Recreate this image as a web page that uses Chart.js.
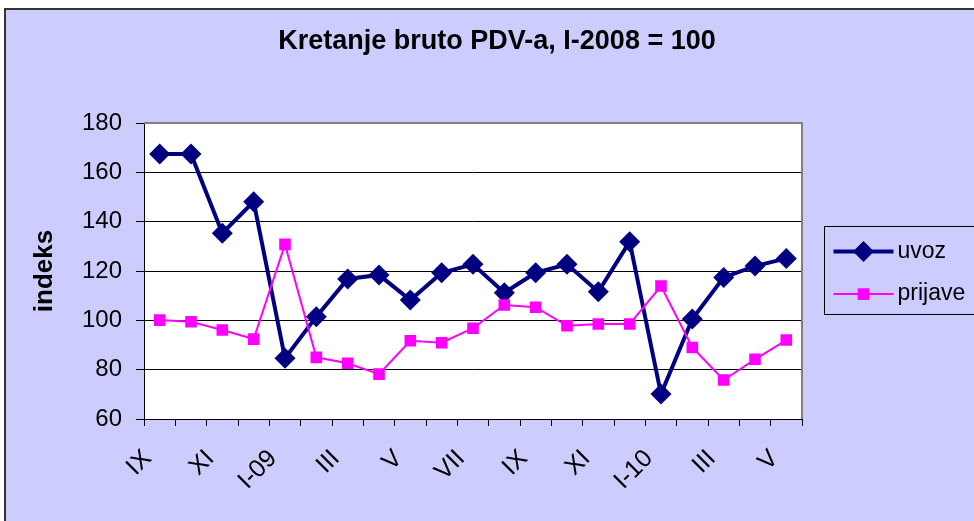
<!DOCTYPE html>
<html>
<head>
<meta charset="utf-8">
<script src="https://cdn.jsdelivr.net/npm/chart.js@4.4.1/dist/chart.umd.min.js"></script>
<style>
  html, body { margin: 0; padding: 0; background: #fff; overflow: hidden; }
  #frame { position: absolute; left: 4px; top: 8px; width: 1040px; height: 540px; background: #ccccff; border: 2px solid #333; }
  #wrap { position: absolute; left: 0; top: 0; width: 1000px; height: 511px; }
</style>
</head>
<body>
<div id="frame"><div id="wrap"><canvas id="pdvChart"></canvas></div></div>
<script>
// months from IX-2008 to V-2010, every second one is labelled on the axis
var months = ['IX', 'X', 'XI', 'XII', 'I-09', 'II', 'III', 'IV', 'V', 'VI', 'VII', 'VIII',
              'IX', 'X', 'XI', 'XII', 'I-10', 'II', 'III', 'IV', 'V'];

var uvoz = [167.4, 167.4, 135.3, 148.1, 84.6, 101.5, 116.8, 118.4, 108.2, 119.3, 122.7,
            111.2, 119.3, 122.7, 111.6, 131.9, 70.1, 100.5, 117.4, 122.0, 125.1];

var prijave = [100.1, 99.4, 96.1, 92.4, 130.8, 85.0, 82.6, 78.2, 91.7, 90.9, 96.8,
               106.2, 105.3, 97.8, 98.5, 98.5, 113.9, 89.0, 75.8, 84.2, 92.0];

var titleText = 'Kretanje bruto PDV-a, I-2008 = 100';
var yTitle = 'indeks';

var FONT = "'Liberation Sans', Arial, sans-serif";
Chart.defaults.font.family = FONT;
Chart.defaults.color = '#000';

// white plot area, grey top/right frame (Excel look)
var plotFrame = {
    id: 'plotFrame',
    beforeDraw(chart) {
        const a = chart.chartArea, ctx = chart.ctx;
        ctx.save();
        ctx.fillStyle = '#fff';
        ctx.fillRect(a.left, a.top, a.right - a.left, a.bottom - a.top);
        ctx.restore();
    },
    afterDatasetsDraw(chart) {
        const a = chart.chartArea, ctx = chart.ctx;
        ctx.save();
        ctx.strokeStyle = '#808080';
        ctx.lineWidth = 2;
        ctx.beginPath();
        ctx.moveTo(a.left, a.top);
        ctx.lineTo(a.right, a.top);
        ctx.lineTo(a.right, a.bottom);
        ctx.stroke();
        ctx.restore();
    }
};

// title centred over the visible frame, not over the plot
var frameTitle = {
    id: 'frameTitle',
    afterDraw(chart) {
        const ctx = chart.ctx;
        ctx.save();
        ctx.font = 'bold 27px ' + FONT;
        ctx.fillStyle = '#000';
        ctx.textAlign = 'center';
        ctx.textBaseline = 'middle';
        ctx.fillText(titleText, 491, 32);
        ctx.restore();
    }
};

function drawMarker(ctx, style, r, x, y) {
    ctx.beginPath();
    if (style === 'rectRot') {
        ctx.moveTo(x, y - r);
        ctx.lineTo(x + r, y);
        ctx.lineTo(x, y + r);
        ctx.lineTo(x - r, y);
    } else {
        const s = r * Math.SQRT1_2;
        ctx.rect(x - s, y - s, 2 * s, 2 * s);
    }
    ctx.closePath();
    ctx.fill();
}

// legend with line + marker like Excel
var excelLegend = {
    id: 'excelLegend',
    afterDraw(chart) {
        const ctx = chart.ctx, a = chart.chartArea;
        const x0 = a.right + 22.5, y0 = a.top + 103.5;
        ctx.save();
        ctx.strokeStyle = '#000';
        ctx.lineWidth = 1;
        ctx.strokeRect(x0, y0, 165, 88);
        chart.data.datasets.forEach((ds, i) => {
            const y = y0 + 25 + i * 42.6;
            ctx.strokeStyle = ds.borderColor;
            ctx.lineWidth = ds.borderWidth;
            ctx.beginPath();
            ctx.moveTo(x0 + 9, y);
            ctx.lineTo(x0 + 69, y);
            ctx.stroke();
            ctx.fillStyle = ds.pointBackgroundColor;
            drawMarker(ctx, ds.pointStyle, ds.pointRadius, x0 + 39, y);
            ctx.fillStyle = '#000';
            ctx.font = '23px ' + FONT;
            ctx.textAlign = 'left';
            ctx.textBaseline = 'middle';
            ctx.fillText(ds.label, x0 + 73, y);
        });
        ctx.restore();
    }
};

var ctx = document.getElementById('pdvChart');
new Chart(ctx, {
    type: 'line',
    data: {
        labels: months,
        datasets: [
            {
                label: 'uvoz',
                data: uvoz,
                borderColor: '#000080',
                backgroundColor: '#000080',
                pointBackgroundColor: '#000080',
                borderWidth: 4,
                pointStyle: 'rectRot',
                pointRadius: 10.5,
                pointBorderWidth: 0,
                tension: 0,
                order: 1
            },
            {
                label: 'prijave',
                data: prijave,
                borderColor: '#ff00ff',
                backgroundColor: '#ff00ff',
                pointBackgroundColor: '#ff00ff',
                borderWidth: 2,
                pointStyle: 'rect',
                pointRadius: 8.2,
                pointBorderWidth: 0,
                tension: 0,
                order: 0
            }
        ]
    },
    options: {
        responsive: true,
        maintainAspectRatio: false,
        animation: false,
        layout: {
            padding: { left: 23, right: 204, top: 113, bottom: 0 }
        },
        scales: {
            x: {
                type: 'category',
                offset: true,
                afterFit: (s) => { s.height = 102; },
                grid: {
                    display: true,
                    offset: true,
                    drawOnChartArea: false,
                    tickLength: 7,
                    color: '#000'
                },
                border: { display: true, color: '#000', width: 1 },
                ticks: {
                    autoSkip: false,
                    minRotation: 45,
                    maxRotation: 45,
                    padding: 18,
                    labelOffset: -12,
                    font: { size: 25 },
                    color: '#000',
                    callback: function (value, index) {
                        return index % 2 === 0 ? this.getLabelForValue(value) : '';
                    }
                }
            },
            y: {
                min: 60,
                max: 180,
                afterFit: (s) => { s.width = 115; },
                grid: { color: '#000', lineWidth: 1, tickLength: 8 },
                border: { display: true, color: '#000', width: 1 },
                ticks: {
                    stepSize: 20,
                    padding: 14,
                    font: { size: 24 },
                    color: '#000'
                },
                title: {
                    display: true,
                    text: yTitle,
                    font: { size: 26, weight: 'bold' },
                    color: '#000',
                    padding: 0
                }
            }
        },
        plugins: {
            legend: { display: false },
            tooltip: { enabled: false }
        }
    },
    plugins: [plotFrame, frameTitle, excelLegend]
});
</script>
</body>
</html>
